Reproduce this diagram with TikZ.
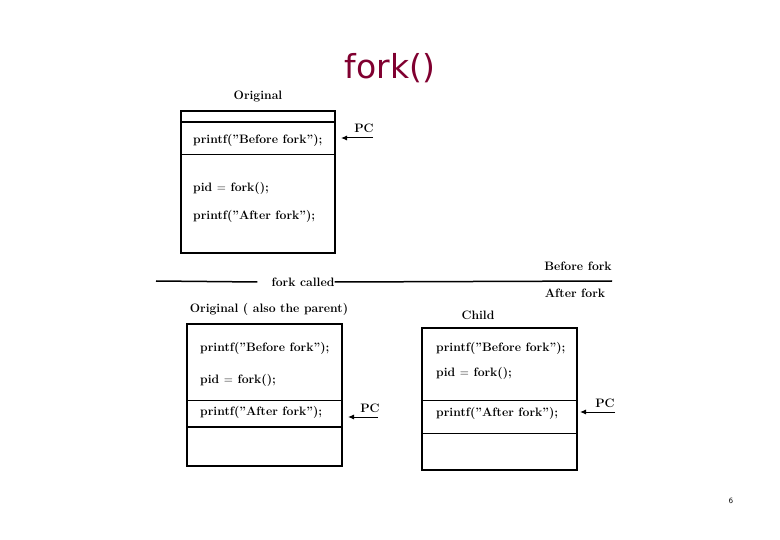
\documentclass[tikz,border=0pt]{standalone}
\usepackage{fontspec}
\newfontfamily\titlefont{DejaVu Sans}
\usetikzlibrary{arrows.meta}
\definecolor{titlered}{RGB}{128,0,48}

\begin{document}
\begin{tikzpicture}[x=1pt,y=-1pt,
  code/.style={anchor=west, inner sep=0pt, font=\fontsize{12.2}{14}\selectfont\bfseries},
  lbl/.style={inner sep=0pt, font=\fontsize{12.2}{14}\selectfont\bfseries},
  pcarrow/.style={-{Latex[length=6pt,width=5pt]}, line width=1pt}]
\useasboundingbox (0,0) rectangle (780,540);
\node[titlered, font=\titlefont\fontsize{33}{38}\selectfont] (title) at (390,68) {fork()};
% before the call
\node[lbl] (orig) at (258,96) {Original};
\draw[line width=1.3pt] (181,111) rectangle (335,253);
\draw[line width=2.2pt] (181,122) -- (335,122);
\draw[line width=0.9pt] (181,154) -- (335,154);
\node[code] (b1) at (193,140) {printf("Before fork");};
\node[code] (b2) at (193,188) {pid $=$ fork();};
\node[code] (b3) at (193,216) {printf("After fork");};
\coordinate (pc0) at (373,138);
\coordinate (pc0end) at (341,138);
\draw[pcarrow] (pc0) -- (pc0end);
\node[lbl] (pc0lbl) at (364,128) {PC};
% the time line
\node[lbl] (called) at (303,282) {fork called};
\coordinate (t0) at (156,281);
\coordinate (t1) at (612,281);
\draw[line width=1.5pt] (t0) -- ([xshift=-14pt]called.west);
\draw[line width=1.5pt] (called.east) -- (t1);
\node[lbl] (bf) at (578,266) {Before fork};
\node[lbl] (af) at (575,293) {After fork};
% the parent
\node[lbl] (parent) at (269,309) {Original ( also the parent)};
\draw[line width=1.3pt] (187,324) rectangle (342,466);
\draw[line width=0.9pt] (187,400) -- (342,400);
\draw[line width=2.2pt] (187,427) -- (342,427);
\node[code] (p1) at (200,348) {printf(''Before fork'');};
\node[code] (p2) at (200,380) {pid $=$ fork();};
\node[code] (p3) at (200,412) {printf(''After fork'');};
\coordinate (pc1) at (378,417);
\coordinate (pc1end) at (348,417);
\draw[pcarrow] (pc1) -- (pc1end);
\node[lbl] (pc1lbl) at (370,408) {PC};
% the child
\node[lbl] (child) at (478,315) {Child};
\draw[line width=1.3pt] (422,328) rectangle (577,470);
\draw[line width=0.9pt] (422,400) -- (577,400);
\draw[line width=0.9pt] (422,433) -- (577,433);
\node[code] (c1) at (436,348) {printf(''Before fork'');};
\node[code] (c2) at (436,373) {pid $=$ fork();};
\node[code] (c3) at (436,413) {printf(''After fork'');};
\coordinate (pc2) at (615,412);
\coordinate (pc2end) at (580,412);
\draw[pcarrow] (pc2) -- (pc2end);
\node[lbl] (pc2lbl) at (605,403) {PC};
\node[font=\sffamily\fontsize{8}{10}\selectfont] (page) at (731,501) {6};
\end{tikzpicture}
\end{document}
